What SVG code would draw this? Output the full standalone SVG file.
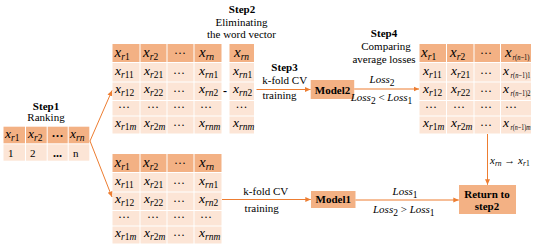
<svg xmlns="http://www.w3.org/2000/svg" width="550" height="247" viewBox="0 0 550 247" font-family="'Liberation Serif','Times New Roman',serif">
<defs>
<style>
text{font-family:"Liberation Serif","Times New Roman",serif;fill:#000}
.h{fill:#F3B184}
.c{fill:#FCE5D6}
.box{fill:#F3B184}
.xh{font-size:15px;font-style:italic}
.xb{font-size:13.5px;font-style:italic}
.s{font-size:9.5px}
.s2{font-size:9px;font-style:italic}
.u{font-style:normal}
.d{font-size:12px;text-anchor:middle}
.lb{font-size:11px;text-anchor:middle}
.b{font-weight:bold}
.it{font-style:italic}
.ln{stroke:#ED7D31;stroke-width:1;fill:none;marker-end:url(#ah)}
</style>
<marker id="ah" markerUnits="userSpaceOnUse" markerWidth="6" markerHeight="6" refX="5.5" refY="3" orient="auto">
<path d="M0,0.5 L5.5,3 L0,5.5 z" fill="#ED7D31"/>
</marker>
</defs>
<rect width="550" height="247" fill="#fff"/>

<g id="step1">
<text class="lb b" x="46" y="109.5">Step1</text>
<text class="lb" x="46" y="121">Ranking</text>
<rect class="h" x="3.5" y="126.7" width="21.5" height="16.6"/>
<rect class="h" x="26" y="126.7" width="20.7" height="16.6"/>
<rect class="h" x="47.7" y="126.7" width="20" height="16.6"/>
<rect class="h" x="68.7" y="126.7" width="20.6" height="16.6"/>
<rect class="c" x="3.5" y="144.3" width="21.5" height="16.4"/>
<rect class="c" x="26" y="144.3" width="20.7" height="16.4"/>
<rect class="c" x="47.7" y="144.3" width="20" height="16.4"/>
<rect class="c" x="68.7" y="144.3" width="20.6" height="16.4"/>
<text class="xb" x="5" y="138.3">x<tspan class="s" dy="3">r<tspan class="u">1</tspan></tspan></text>
<text class="xb" x="28" y="138.3">x<tspan class="s" dy="3">r<tspan class="u">2</tspan></tspan></text>
<text class="d b" x="57.5" y="140">···</text>
<text class="xb" x="70" y="138.3">x<tspan class="s" dy="3">rn</tspan></text>
<text x="8" y="156.7" font-size="11">1</text>
<text x="30" y="156.7" font-size="11">2</text>
<text class="d b" x="57.5" y="156.5">...</text>
<text x="73" y="156.7" font-size="11">n</text>
</g>

<g id="step2-label">
<text class="lb b" x="242" y="13">Step2</text>
<text class="lb" x="241.5" y="26">Eliminating</text>
<text class="lb" x="241.5" y="38">the word vector</text>
</g>

<g id="top-table">
<rect class="h" x="112.5" y="44" width="27" height="18"/>
<rect class="h" x="140.5" y="44" width="26" height="18"/>
<rect class="h" x="167.5" y="44" width="26" height="18"/>
<rect class="h" x="194.5" y="44" width="27" height="18"/>
<g class="c">
<rect x="112.5" y="63" width="27" height="18.5"/><rect x="140.5" y="63" width="26" height="18.5"/><rect x="167.5" y="63" width="26" height="18.5"/><rect x="194.5" y="63" width="27" height="18.5"/>
<rect x="112.5" y="82.5" width="27" height="17.5"/><rect x="140.5" y="82.5" width="26" height="17.5"/><rect x="167.5" y="82.5" width="26" height="17.5"/><rect x="194.5" y="82.5" width="27" height="17.5"/>
<rect x="112.5" y="101" width="27" height="14.5"/><rect x="140.5" y="101" width="26" height="14.5"/><rect x="167.5" y="101" width="26" height="14.5"/><rect x="194.5" y="101" width="27" height="14.5"/>
<rect x="112.5" y="116.5" width="27" height="17"/><rect x="140.5" y="116.5" width="26" height="17"/><rect x="167.5" y="116.5" width="26" height="17"/><rect x="194.5" y="116.5" width="27" height="17"/>
</g>
<text class="xh" x="114.5" y="57">x<tspan class="s" dy="3">r<tspan class="u">1</tspan></tspan></text>
<text class="xh" x="143" y="57">x<tspan class="s" dy="3">r<tspan class="u">2</tspan></tspan></text>
<text class="d" x="180" y="57">···</text>
<text class="xh" x="199" y="57">x<tspan class="s" dy="3">rn</tspan></text>
<text class="xb" x="115" y="75">x<tspan class="s" dy="3">r<tspan class="u">11</tspan></tspan></text>
<text class="xb" x="144" y="75">x<tspan class="s" dy="3">r<tspan class="u">21</tspan></tspan></text>
<text class="d" x="179" y="76.5">···</text>
<text class="xb" x="199" y="75">x<tspan class="s" dy="3">rn<tspan class="u">1</tspan></tspan></text>
<text class="xb" x="115" y="93">x<tspan class="s" dy="3">r<tspan class="u">12</tspan></tspan></text>
<text class="xb" x="144" y="93">x<tspan class="s" dy="3">r<tspan class="u">22</tspan></tspan></text>
<text class="d" x="179" y="94.5">···</text>
<text class="xb" x="199" y="93">x<tspan class="s" dy="3">rn<tspan class="u">2</tspan></tspan></text>
<text class="d" x="124" y="110.5">···</text>
<text class="d" x="153" y="110.5">···</text>
<text class="d" x="179" y="110.5">···</text>
<text class="d" x="206" y="110.5">···</text>
<text class="xb" x="115" y="127">x<tspan class="s" dy="3">r<tspan class="u">1</tspan>m</tspan></text>
<text class="xb" x="144" y="127">x<tspan class="s" dy="3">r<tspan class="u">2</tspan>m</tspan></text>
<text class="d" x="179" y="128.5">···</text>
<text class="xb" x="199" y="127">x<tspan class="s" dy="3">rnm</tspan></text>
</g>

<g id="eliminated-column">
<rect class="h" x="229.5" y="44" width="24.5" height="18"/>
<rect class="c" x="229.5" y="63" width="24.5" height="18.5"/>
<rect class="c" x="229.5" y="82.5" width="24.5" height="17.5"/>
<rect class="c" x="229.5" y="101" width="24.5" height="14.5"/>
<rect class="c" x="229.5" y="116.5" width="24.5" height="17"/>
<text class="xh" x="234" y="57">x<tspan class="s" dy="3">rn</tspan></text>
<text class="xb" x="233" y="75">x<tspan class="s" dy="3">rn<tspan class="u">1</tspan></tspan></text>
<text class="xb" x="233" y="93">x<tspan class="s" dy="3">rn<tspan class="u">2</tspan></tspan></text>
<text class="d" x="241.5" y="110.5">···</text>
<text class="xb" x="233" y="127">x<tspan class="s" dy="3">rnm</tspan></text>
<text x="225" y="95" font-size="12" text-anchor="middle" font-weight="bold">-</text>
</g>

<g id="bottom-table">
<rect class="h" x="112.5" y="154" width="27" height="18"/>
<rect class="h" x="140.5" y="154" width="26" height="18"/>
<rect class="h" x="167.5" y="154" width="26" height="18"/>
<rect class="h" x="194.5" y="154" width="27" height="18"/>
<g class="c">
<rect x="112.5" y="173" width="27" height="18.5"/><rect x="140.5" y="173" width="26" height="18.5"/><rect x="167.5" y="173" width="26" height="18.5"/><rect x="194.5" y="173" width="27" height="18.5"/>
<rect x="112.5" y="192.5" width="27" height="17.5"/><rect x="140.5" y="192.5" width="26" height="17.5"/><rect x="167.5" y="192.5" width="26" height="17.5"/><rect x="194.5" y="192.5" width="27" height="17.5"/>
<rect x="112.5" y="211" width="27" height="14.5"/><rect x="140.5" y="211" width="26" height="14.5"/><rect x="167.5" y="211" width="26" height="14.5"/><rect x="194.5" y="211" width="27" height="14.5"/>
<rect x="112.5" y="226.5" width="27" height="17"/><rect x="140.5" y="226.5" width="26" height="17"/><rect x="167.5" y="226.5" width="26" height="17"/><rect x="194.5" y="226.5" width="27" height="17"/>
</g>
<text class="xh" x="114.5" y="167">x<tspan class="s" dy="3">r<tspan class="u">1</tspan></tspan></text>
<text class="xh" x="143" y="167">x<tspan class="s" dy="3">r<tspan class="u">2</tspan></tspan></text>
<text class="d" x="180" y="167">···</text>
<text class="xh" x="199" y="167">x<tspan class="s" dy="3">rn</tspan></text>
<text class="xb" x="115" y="185">x<tspan class="s" dy="3">r<tspan class="u">11</tspan></tspan></text>
<text class="xb" x="144" y="185">x<tspan class="s" dy="3">r<tspan class="u">21</tspan></tspan></text>
<text class="d" x="179" y="186.5">···</text>
<text class="xb" x="199" y="185">x<tspan class="s" dy="3">rn<tspan class="u">1</tspan></tspan></text>
<text class="xb" x="115" y="203">x<tspan class="s" dy="3">r<tspan class="u">12</tspan></tspan></text>
<text class="xb" x="144" y="203">x<tspan class="s" dy="3">r<tspan class="u">22</tspan></tspan></text>
<text class="d" x="179" y="204.5">···</text>
<text class="xb" x="199" y="203">x<tspan class="s" dy="3">rn<tspan class="u">2</tspan></tspan></text>
<text class="d" x="124" y="220.5">···</text>
<text class="d" x="153" y="220.5">···</text>
<text class="d" x="179" y="220.5">···</text>
<text class="d" x="206" y="220.5">···</text>
<text class="xb" x="115" y="237">x<tspan class="s" dy="3">r<tspan class="u">1</tspan>m</tspan></text>
<text class="xb" x="144" y="237">x<tspan class="s" dy="3">r<tspan class="u">2</tspan>m</tspan></text>
<text class="d" x="179" y="238.5">···</text>
<text class="xb" x="199" y="237">x<tspan class="s" dy="3">rnm</tspan></text>
</g>

<g id="step4-label">
<text class="lb b" x="384" y="37">Step4</text>
<text class="lb" x="386" y="50">Comparing</text>
<text class="lb" x="384" y="63">average losses</text>
</g>

<g id="right-table">
<rect class="h" x="419.5" y="44" width="26.5" height="18"/>
<rect class="h" x="447" y="44" width="26.5" height="18"/>
<rect class="h" x="474.5" y="44" width="25.5" height="18"/>
<rect class="h" x="501" y="44" width="30" height="18"/>
<g class="c">
<rect x="419.5" y="63" width="26.5" height="18.5"/><rect x="447" y="63" width="26.5" height="18.5"/><rect x="474.5" y="63" width="25.5" height="18.5"/><rect x="501" y="63" width="30" height="18.5"/>
<rect x="419.5" y="82.5" width="26.5" height="17.5"/><rect x="447" y="82.5" width="26.5" height="17.5"/><rect x="474.5" y="82.5" width="25.5" height="17.5"/><rect x="501" y="82.5" width="30" height="17.5"/>
<rect x="419.5" y="101" width="26.5" height="14.5"/><rect x="447" y="101" width="26.5" height="14.5"/><rect x="474.5" y="101" width="25.5" height="14.5"/><rect x="501" y="101" width="30" height="14.5"/>
<rect x="419.5" y="116.5" width="26.5" height="17"/><rect x="447" y="116.5" width="26.5" height="17"/><rect x="474.5" y="116.5" width="25.5" height="17"/><rect x="501" y="116.5" width="30" height="17"/>
</g>
<text class="xh" x="421" y="57">x<tspan class="s" dy="3">r<tspan class="u">1</tspan></tspan></text>
<text class="xh" x="450" y="57">x<tspan class="s" dy="3">r<tspan class="u">2</tspan></tspan></text>
<text class="d" x="486" y="57">···</text>
<text class="xh" x="505" y="57">x</text>
<text class="s2" x="512.5" y="60" textLength="17" lengthAdjust="spacingAndGlyphs">r<tspan class="u">(</tspan>n<tspan class="u">−1)</tspan></text>
<text class="xb" x="423" y="75">x<tspan class="s" dy="3">r<tspan class="u">11</tspan></tspan></text>
<text class="xb" x="451" y="75">x<tspan class="s" dy="3">r<tspan class="u">21</tspan></tspan></text>
<text class="d" x="486" y="76.5">···</text>
<text class="xb" x="503" y="75">x</text>
<text class="s2" x="510.5" y="78" textLength="20" lengthAdjust="spacingAndGlyphs">r<tspan class="u">(</tspan>n<tspan class="u">−1)1</tspan></text>
<text class="xb" x="423" y="93">x<tspan class="s" dy="3">r<tspan class="u">12</tspan></tspan></text>
<text class="xb" x="451" y="93">x<tspan class="s" dy="3">r<tspan class="u">22</tspan></tspan></text>
<text class="d" x="486" y="94.5">···</text>
<text class="xb" x="503" y="93">x</text>
<text class="s2" x="510.5" y="96" textLength="20" lengthAdjust="spacingAndGlyphs">r<tspan class="u">(</tspan>n<tspan class="u">−1)2</tspan></text>
<text class="d" x="431" y="110.5">···</text>
<text class="d" x="459" y="110.5">···</text>
<text class="d" x="486" y="110.5">···</text>
<text class="d" x="511" y="110.5">···</text>
<text class="xb" x="423" y="127">x<tspan class="s" dy="3">r<tspan class="u">1</tspan>m</tspan></text>
<text class="xb" x="451" y="127">x<tspan class="s" dy="3">r<tspan class="u">2</tspan>m</tspan></text>
<text class="d" x="486" y="128.5">···</text>
<text class="xb" x="503" y="127">x</text>
<text class="s2" x="510.5" y="130" textLength="20" lengthAdjust="spacingAndGlyphs">r<tspan class="u">(</tspan>n<tspan class="u">−1)</tspan>m</text>
</g>

<g id="model2">
<rect class="box" x="310.7" y="80" width="43.5" height="19"/>
<text class="lb b" x="332.5" y="93.5">Model2</text>
</g>

<g id="model1">
<rect class="box" x="311" y="191" width="44.5" height="17"/>
<text class="lb b" x="333.3" y="203.3">Model1</text>
</g>

<g id="return-to-step2">
<rect class="box" x="459" y="185" width="57" height="29"/>
<text class="lb b" x="487" y="198">Return to</text>
<text class="lb b" x="487" y="210">step2</text>
</g>

<g id="connectors">
<line class="ln" x1="90" y1="141" x2="112" y2="90.5"/>
<line class="ln" x1="90" y1="141" x2="112" y2="197"/>
<line class="ln" x1="256.5" y1="89.5" x2="310.5" y2="89.5"/>
<line class="ln" x1="354.2" y1="89" x2="419" y2="89"/>
<line class="ln" x1="487.5" y1="134" x2="487.5" y2="184.8"/>
<line class="ln" x1="222" y1="199.5" x2="310.8" y2="199.5"/>
<line class="ln" x1="355.5" y1="200" x2="458.8" y2="200"/>
<text class="lb b" x="284.5" y="71">Step3</text>
<text class="lb" x="284.7" y="83.5">k-fold CV</text>
<text class="lb" x="279.5" y="99">training</text>
<text class="lb it" x="382" y="83">Loss<tspan class="s u" dy="2.5">2</tspan></text>
<text class="lb it" x="381.5" y="101">Loss<tspan class="s u" dy="2.5">2</tspan><tspan dy="-2.5" class="u"> &lt; </tspan>Loss<tspan class="s u" dy="2.5">1</tspan></text>
<text class="lb" x="265.8" y="194.5">k-fold CV</text>
<text class="lb" x="261.7" y="212">training</text>
<text class="lb it" x="405" y="195">Loss<tspan class="s u" dy="2.5">1</tspan></text>
<text class="lb it" x="403.8" y="213">Loss<tspan class="s u" dy="2.5">2</tspan><tspan dy="-2.5" class="u"> &gt; </tspan>Loss<tspan class="s u" dy="2.5">1</tspan></text>
<text x="490" y="164" font-size="11" font-style="italic">x<tspan font-size="7.5" dy="2">rn</tspan><tspan dy="-2" font-style="normal"> → </tspan>x<tspan font-size="7.5" dy="2">r<tspan font-style="normal">1</tspan></tspan></text>
</g>
</svg>
